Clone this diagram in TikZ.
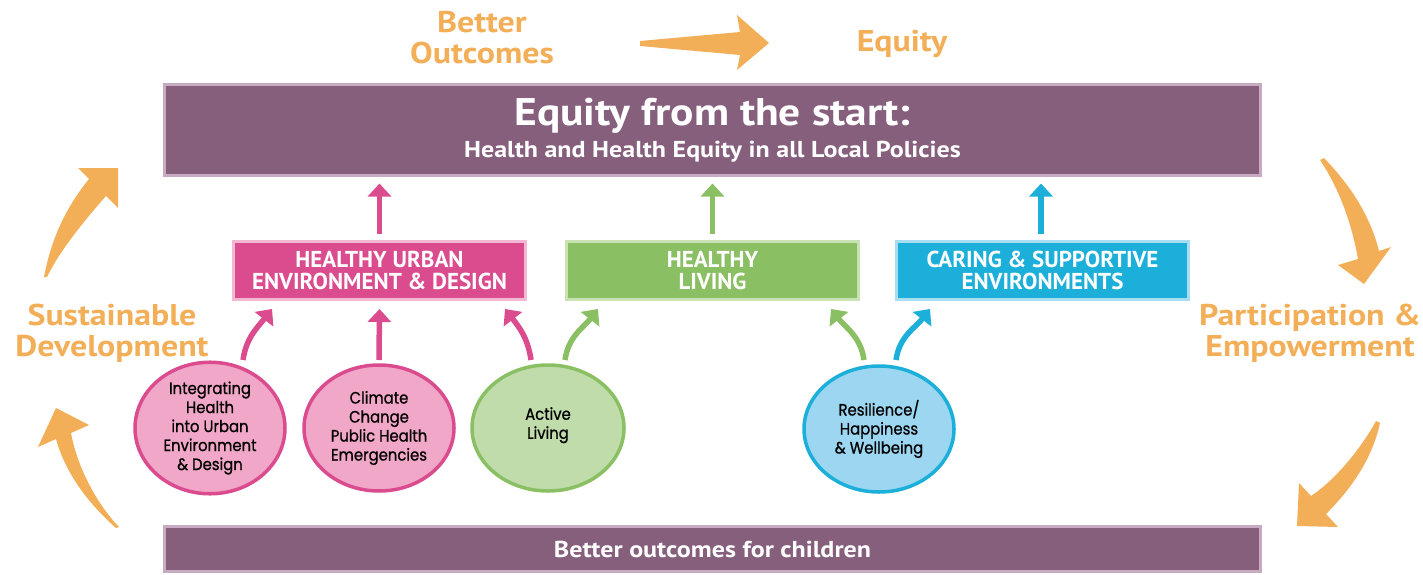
\documentclass[tikz,border=0pt]{standalone}
\usepackage{fontspec}
\setmainfont{PT Sans}
\newfontfamily\widefont[FakeStretch=1.13]{PT Sans}
\newfontfamily\roundfont[FakeStretch=0.9,FakeBold=0.8]{Poppins}
\usetikzlibrary{shapes.geometric,arrows.meta}
\definecolor{plum}{HTML}{865F7D}
\definecolor{plumedge}{HTML}{C9AAC3}
\definecolor{amber}{HTML}{F3AE58}
\definecolor{rose}{HTML}{DB4C8F}
\definecolor{roseedge}{HTML}{F3B8D4}
\definecolor{rosefill}{HTML}{F1A7C7}
\definecolor{leaf}{HTML}{8AC063}
\definecolor{leafedge}{HTML}{C8E2B4}
\definecolor{leaffill}{HTML}{C0DCAA}
\definecolor{sky}{HTML}{1BAFDA}
\definecolor{skyedge}{HTML}{A9DDF1}
\definecolor{skyfill}{HTML}{9DD6F1}
\tikzset{
  banner/.style={rectangle, fill=plum, draw=plumedge, line width=3pt,
    minimum width=1096pt, text=white, align=center, inner sep=0pt},
  theme/.style={rectangle, line width=3pt, minimum width=292pt,
    minimum height=58pt, text=white, align=center, inner sep=0pt,
    font=\fontsize{23}{22}\selectfont\bfseries},
  topic/.style={ellipse, line width=3.5pt, inner sep=0pt, align=center,
    font=\roundfont\fontsize{16.5}{19}\selectfont},
  link/.style={line width=5.5pt, -{Triangle[width=23pt,length=13pt]}},
  amberlabel/.style={text=amber, align=center,
    font=\widefont\bfseries\fontsize{30}{31}\selectfont},
}
\begin{document}
\begin{tikzpicture}[x=1pt,y=1pt]
\useasboundingbox (0,0) rectangle (1423,-575);

% banners
\node[banner, minimum height=90pt, font=\widefont\bfseries\fontsize{23}{32}\selectfont]
  (top) at (712.5,-130)
  {{\fontsize{38.5}{40}\selectfont Equity from the start:}\\
   Health and Health Equity in all Local Policies};
\node[banner, minimum height=45pt, font=\widefont\bfseries\fontsize{23}{26}\selectfont]
  (bottom) at (712.5,-549) {Better outcomes for children};

% themes
\node[theme, fill=rose, draw=roseedge] (urban) at (379.5,-270.5)
  {HEALTHY URBAN\\ENVIRONMENT \& DESIGN};
\node[theme, fill=leaf, draw=leafedge] (living) at (712.5,-270.5)
  {HEALTHY\\LIVING};
\node[theme, fill=sky, draw=skyedge] (caring) at (1042.5,-270.5)
  {CARING \& SUPPORTIVE\\ENVIRONMENTS};

% topics
\node[topic, fill=rosefill, draw=rose, minimum width=150pt, minimum height=126pt]
  (integ) at (210,-428) {Integrating\\Health\\into Urban\\Environment\\\& Design};
\node[topic, fill=rosefill, draw=rose, minimum width=150pt, minimum height=126pt]
  (climate) at (379,-428) {Climate\\Change\\Public Health\\Emergencies};
\node[topic, fill=leaffill, draw=leaf, minimum width=152pt, minimum height=126pt]
  (active) at (548,-428) {Active\\Living\\[-9pt]};
\node[topic, fill=skyfill, draw=sky, minimum width=150pt, minimum height=126pt]
  (resil) at (879,-429) {Resilience/\\Happiness\\\& Wellbeing};

% themes feed the banner
\draw[link, rose, shorten <=6pt, shorten >=7pt] (urban.north) -- (urban.north |- top.south);
\draw[link, leaf, shorten <=6pt, shorten >=7pt] (living.north) -- (living.north |- top.south);
\draw[link, sky, shorten <=6pt, shorten >=7pt] ([xshift=-1.5pt]caring.north) -- ([xshift=-1.5pt]caring.north |- top.south);

% topics feed the themes
\draw[link, rose] ([shift={(33,68)}]integ.center) to[out=82,in=-128] ([shift={(-107.5,-8)}]urban.south);
\draw[link, rose] ([shift={(0,68)}]climate.center) -- ([shift={(0,-8)}]urban.south);
\draw[link, rose] ([shift={(-17,68)}]active.center) to[out=98,in=-52] ([shift={(125.5,-8)}]urban.south);
\draw[link, leaf] ([shift={(17,68)}]active.center) to[out=82,in=-128] ([shift={(-114.5,-8)}]living.south);
\draw[link, leaf] ([shift={(-15,69)}]resil.center) to[out=98,in=-52] ([shift={(118.5,-8)}]living.south);
\draw[link, sky] ([shift={(17,69)}]resil.center) to[out=82,in=-128] ([shift={(-112.5,-8)}]caring.south);

% cycle labels
\node[amberlabel] (better) at (482,-38) {Better\\Outcomes};
\node[amberlabel] (equity) at (902,-44) {Equity};
\node[amberlabel] (partic) at (1310,-333) {Participation \&\\Empowerment};
\node[amberlabel] (sustain) at (112,-333) {Sustainable\\Development};

% cycle arrows
\fill[amber] (640,-41) -- (740,-32) -- (737,-15) -- (769,-43) -- (737,-70)
  -- (740,-55) -- (640,-46) -- cycle;
\fill[amber] (1320,-160) .. controls (1340,-190) and (1352,-225) .. (1358,-259)
  -- (1338,-265) -- (1364,-284) -- (1391,-247) -- (1379,-251)
  .. controls (1370,-215) and (1350,-185) .. (1324,-158) -- cycle;
\fill[amber] (1376,-421) .. controls (1360,-450) and (1335,-480) .. (1311,-496)
  -- (1299,-483) -- (1297,-526) -- (1338,-527) -- (1326,-514)
  .. controls (1350,-490) and (1372,-460) .. (1380,-423) -- cycle;
\fill[amber] (116,-528) .. controls (90,-505) and (66,-475) .. (56,-439)
  -- (38,-447) -- (56,-408) -- (89,-425) -- (71,-433)
  .. controls (78,-470) and (98,-505) .. (119,-527) -- cycle;
\fill[amber] (44,-277) .. controls (52,-235) and (68,-205) .. (89,-179)
  -- (78,-168) -- (118,-168) -- (118,-208) -- (106,-196)
  .. controls (85,-220) and (60,-250) .. (47,-277) -- cycle;
\end{tikzpicture}
\end{document}
